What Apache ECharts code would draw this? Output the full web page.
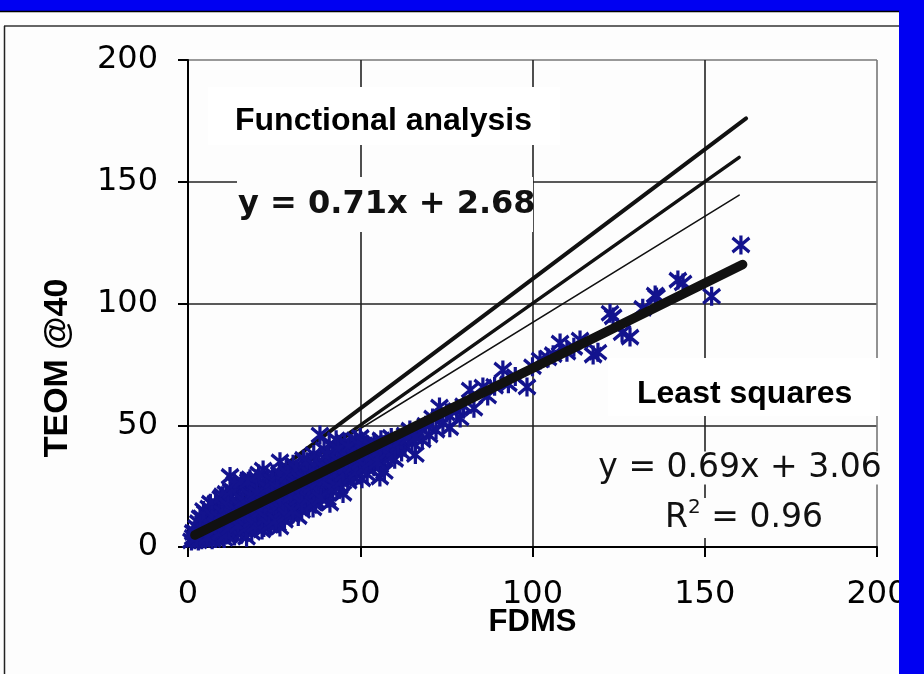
<!DOCTYPE html>
<html>
<head>
<meta charset="utf-8">
<script src="https://cdn.jsdelivr.net/npm/echarts@6/dist/echarts.min.js"></script>
<style>
html,body{margin:0;padding:0;background:#fdfdfd;}
#chart{width:924px;height:674px;}
</style>
</head>
<body>
<div id="chart"></div>
<script>
// ---- data ----
const axisTicks = [0, 50, 100, 150, 200];
const xTitle = 'FDMS';
const yTitle = 'TEOM @40';

// FDMS (x) vs TEOM @40 (y) observations
const observations = [
 [1,2.5],[1.5,4],[2,3],[2,6],[2.5,8],[3,2.5],[3,5],[3,10],[3.5,7],[4,3],[4,12],[4,5.5],[4.5,9],[5,3.5],[5,6.5],[5,14],
 [5.5,10],[6,4.5],[6,8],[6,16],[6.5,12],[7,3],[7,6],[7,10],[7.5,14],[8,6.5],[8,18],[8,3.5],[8.5,11],[9,8],[9,15],[9,4.5],
 [9.5,20],[10,6],[10,11],[10,17],[10.5,3.5],[11,9],[11,14],[11,22],[11.5,7],[12,5],[12,12],[12,18],[12.2,29],[12.5,10],
 [13,8],[13,16],[13,23],[13.5,4.5],[14,11],[14,19],[14,7],[14.5,25],[15,13],[15,9],[15,21],[15.5,5.5],[16,15],[16,11],
 [16,26],[16.5,7],[17,4],[17,13],[17,19],[17.5,23],[18,10],[18,16],[18,28],[18.5,6],[19,14],[19,21],[19,12],[19.5,25],
 [20,9],[20,17],[20,28],[20.5,13],[21,19],[21,11],[21,23],[21.8,31.6],[22,15],[22,8],[22,21],[22.5,26],[23,17],[23,12],
 [23,28],[23.5,20],[24,10],[24,15],[24,24],[24.5,30],[25,18],[25,13],[25,22],[25.5,27],[26,9.5],[26,16],[26,20],[26.7,35],
 [26.7,8.2],[27,24],[27,13],[27.5,29],[28,18],[28,22],[28,11],[28.5,32],[29,15],[29,26],[29,20],[30,13],[30,24],[30,30],
 [30,18],[30.5,34],[31,21],[31,16],[31.5,27],[32,12.5],[32,24],[32,31],[32.5,19],[33,22],[33,28],[33,15],[33.5,36],
 [34,25],[34,19],[34,31],[35,17],[35,27],[35,23],[35.5,33],[36,30],[36.3,16],[36,21],[36.5,38],[37,26],[37,19],[37.5,32],
 [38,24],[38,29],[38.3,46],[38,35],[39,22],[39,27],[39.5,40],[40,31],[40,25],[40,36],[40.5,20],[41,29],[41.2,18],[41,42],
 [41.5,34],[42,27],[42,38],[42,23],[43,32],[43,44],[43,28],[43.5,36],[44,25],[44,30],[44,40],[45,34],[45,38],[45,22],
 [45.5,43],[46,30],[46,36],[46.5,27],[47,40],[47,33],[47,31.6],[48,38],[48,29],[48.5,44],[49,35],[49,41],[50,32],[50,38],
 [50,45],[50.5,28],[51,36],[51,42],[52,34],[52,39],[52,30],[53,40],[53,37],[54,33],[54,43],[55,38],[55,41],[55.7,28.7],
 [56,35],[56,44],[57,39],[57,31],[58,42],[58,37],[59,45],[59,40],[60,36],[60,43],[61.5,44],[62,39],[63,46],[63,41],
 [64.4,48],[65,43],[66,38],[67,47],[68,44],[69,50],[70,46],[71,53],[72,48],[73,57.5],[74,51],[75,55],[76,49],[78,56],
 [79,53],[80,58],[81.9,64.5],[83,57],[85.6,65.7],[87,62],[89,66],[91.4,72.7],[93,67],[95,70],[98.4,65.7],[100,74],
 [102.2,76.8],[104.5,77.6],[106,79],[108,83.8],[110,80],[112,82],[113.8,85],[117.6,78.8],[119,80],[122.5,96],[123.4,94.5],
 [126,88],[128.3,86.2],[132,98],[135.6,103.5],[136,102.7],[142.2,109.6],[143.7,108.4],[152,103],[160.5,124],
 [1.5,6],[2.5,4],[3.5,12],[4.5,15],[5.5,4],[6.5,18],[7,13],[8,9],[9,12],[9.5,6],[10,14],[10,21],[11,5],[11.5,17],[12,8],
 [12.5,23],[13,13],[13.5,26],[14,15],[14.5,9],[15,17],[15.5,27],[16,19],[16.5,13],[17,8],[17.5,27],[18,21],[18.5,11],
 [19,17],[19.5,9],[20,22],[20.5,30],[21,15],[21.5,7],[22,18],[22.5,12],[23,24],[23.5,9],[24,19],[24.5,27],[25,16],
 [25.5,11],[26,24],[26.5,30],[27,18],[27.5,15],[28,26],[28.5,13],[29,30],[29.5,23],[30,21],[30.5,15],[31,26],[31.5,32],
 [32,20],[32.5,28],[33,18],[33.5,25],[34,28],[34.5,35],[35,20],[35.5,30],[36,25],[36.5,18],[37,33],[37.5,23],[38,27],
 [38.5,20],[39,33],[39.5,30],[40,28],[40.5,38],[41,32],[41.5,24],[42,33],[42.5,30],[43,25],[43.5,40],[44,35],[44.5,27],
 [45,30],[45.5,36],[46,33],[46.5,41],[47,36],[47.5,29],[48,33],[48.5,37],[49,31],[49.5,42],[50,35],[51,39],[51.5,33],
 [52,42],[53,35],[53.5,41],[54,38],[55,35],[56,40],[57,42],[58,39],[59,37],[60,40],[61,42],[62,44],[64,45],[66,45]
];

// fitted / functional-analysis lines (end points)
const lsFit      = [[2, 4.9], [161, 116]];
const faUpper    = [[3, 6.8], [162, 176]];
const faMiddle   = [[3, 3], [160, 160]];
const faLower    = [[3, 7.6], [160, 144.5]];

const faLabel    = 'Functional analysis';
const faEquation = 'y = 0.71x + 2.68';
const lsLabel    = 'Least squares';
const lsEquation = 'y = 0.69x + 3.06';
const lsR2       = '0.96';

// ---- chart ----
const chart = echarts.init(document.getElementById('chart'), null, {renderer: 'canvas'});
const tickFont = {fontFamily: 'DejaVu Sans', fontSize: 32, color: '#000'};
const star = 'path://M8,0L8,16M2,2L14,14M2,14L14,2';

function lineSeries(data, w) {
  return {type: 'line', data: data, symbol: 'none', showSymbol: false, silent: true,
    lineStyle: {color: '#111', width: w, cap: 'round'}, z: 1, animation: false};
}

chart.setOption({
  animation: false,
  backgroundColor: '#fdfdfd',
  grid: {left: 188, right: 47, top: 60, bottom: 127, containLabel: false},
  xAxis: {
    type: 'value', min: axisTicks[0], max: axisTicks[axisTicks.length - 1], interval: 50,
    name: xTitle, nameLocation: 'middle', nameGap: 60, nameMoveOverlap: false,
    nameTextStyle: {fontFamily: 'Liberation Sans', fontWeight: 'bold', fontSize: 31, color: '#000'},
    axisLine: {lineStyle: {color: '#000', width: 2}},
    axisTick: {length: 10, lineStyle: {color: '#000', width: 2}},
    axisLabel: Object.assign({margin: 32}, tickFont),
    splitLine: {lineStyle: {color: ['#222', '#222', '#222', '#222', '#777'], width: 1.6}}
  },
  yAxis: {
    type: 'value', min: axisTicks[0], max: axisTicks[axisTicks.length - 1], interval: 50,
    axisLine: {lineStyle: {color: '#000', width: 2}},
    axisTick: {length: 10, lineStyle: {color: '#000', width: 2}},
    axisLabel: Object.assign({margin: 30}, tickFont),
    splitLine: {lineStyle: {color: ['#222', '#222', '#222', '#222', '#777'], width: 1.6}}
  },
  series: [
    lineSeries(faUpper, 4),
    lineSeries(faMiddle, 3.4),
    lineSeries(faLower, 1.5),
    {
      type: 'scatter', data: observations, symbol: star, symbolSize: [17, 19], symbolKeepAspect: false,
      itemStyle: {color: 'rgba(0,0,0,0)', borderColor: '#13138e', borderWidth: 3.4, opacity: 1},
      z: 2, silent: true
    },
    Object.assign(lineSeries(lsFit, 9.5), {z: 3})
  ],
  graphic: [
    // page frame decorations
    {type: 'rect', shape: {x: 0, y: 0, width: 924, height: 11}, style: {fill: '#0000f2'}, z: 100},
    {type: 'rect', shape: {x: 899, y: 0, width: 25, height: 674}, style: {fill: '#0000f2'}, z: 100},
    {type: 'line', shape: {x1: 0, y1: 11.5, x2: 899, y2: 11.5}, style: {stroke: '#000', lineWidth: 1.5}, z: 100},
    {type: 'line', shape: {x1: 4, y1: 26, x2: 899, y2: 26}, style: {stroke: '#333', lineWidth: 1.5}, z: 100},
    {type: 'line', shape: {x1: 4.5, y1: 26, x2: 4.5, y2: 674}, style: {stroke: '#222', lineWidth: 1.5}, z: 100},
    // y axis title
    {type: 'text', x: 58, y: 368, rotation: Math.PI / 2,
      style: {text: yTitle, fontFamily: 'Liberation Sans', fontWeight: 'bold', fontSize: 34, fill: '#000',
        align: 'center', verticalAlign: 'middle'}, z: 100},
    // functional analysis label
    {type: 'rect', shape: {x: 208, y: 87, width: 352, height: 58}, style: {fill: '#ffffff'}, z: 50},
    {type: 'text', x: 235, y: 121, style: {text: faLabel, fontFamily: 'Liberation Sans', fontWeight: 'bold',
      fontSize: 32, fill: '#000', align: 'left', verticalAlign: 'middle'}, z: 51},
    {type: 'rect', shape: {x: 237, y: 177, width: 296, height: 55}, style: {fill: '#fdfdfd'}, z: 50},
    {type: 'text', x: 238, y: 205, style: {text: faEquation, fontFamily: 'DejaVu Sans', fontWeight: 'bold',
      fontSize: 32, fill: '#111', align: 'left', verticalAlign: 'middle'}, z: 51},
    // least squares label
    {type: 'rect', shape: {x: 608, y: 358, width: 272, height: 58}, style: {fill: '#ffffff'}, z: 50},
    {type: 'text', x: 637, y: 394, style: {text: lsLabel, fontFamily: 'Liberation Sans', fontWeight: 'bold',
      fontSize: 32, fill: '#000', align: 'left', verticalAlign: 'middle'}, z: 51},
    {type: 'text', x: 740, y: 468, style: {text: lsEquation, fontFamily: 'DejaVu Sans',
      fontSize: 33, fill: '#111', align: 'center', verticalAlign: 'middle', backgroundColor: '#fdfdfd'}, z: 51},
    {type: 'text', x: 744, y: 518, style: {
      text: '{b|R}{s|2}{b| = ' + lsR2 + '}', align: 'center', verticalAlign: 'middle', backgroundColor: '#fdfdfd',
      rich: {
        b: {fontFamily: 'DejaVu Sans', fontSize: 33, fill: '#111', color: '#111', lineHeight: 40},
        s: {fontFamily: 'DejaVu Sans', fontSize: 20, fill: '#111', color: '#111', verticalAlign: 'top', lineHeight: 20}
      }}, z: 51}
  ]
});
</script>
</body>
</html>
